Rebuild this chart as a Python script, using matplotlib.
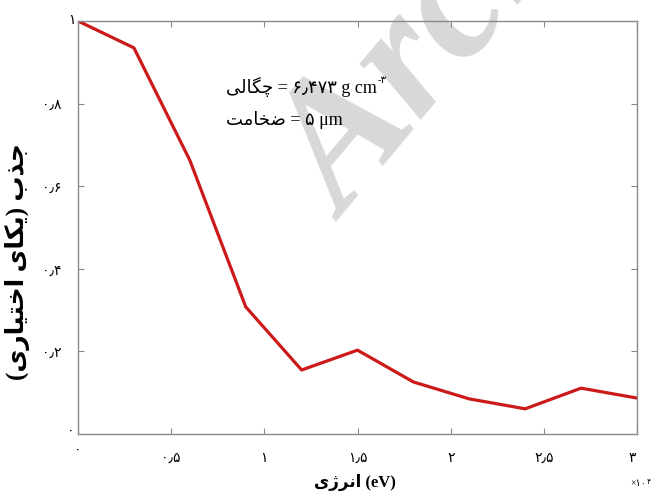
import matplotlib
matplotlib.use("Agg")
import matplotlib.pyplot as plt
from matplotlib.ticker import FuncFormatter
import matplotlib.transforms as mtrans

# data (energy in units of 10^4 eV)
energy = [0, 0.3, 0.6, 0.9, 1.2, 1.5, 1.8, 2.1, 2.4, 2.7, 3.0]
absorb = [1.0, 0.935, 0.663, 0.308, 0.155, 0.203, 0.126, 0.085, 0.061, 0.111, 0.087]
xticks = [0, 0.5, 1, 1.5, 2, 2.5, 3]
yticks = [0, 0.2, 0.4, 0.6, 0.8, 1]

xlabel_fa = "انرژی"
ylabel_fa = "جذب (یکای اختیاری)"
density_fa = "چگالی"
thick_fa = "ضخامت"
density_val = "۶٫۴۷۳ g cm"
thick_val = "۵ μm"
watermark = "Archive of SID"

# arabic presentation forms: isolated, final, initial, medial
FORMS = {
    'ا': ('\uFE8D', '\uFE8E', None, None),
    'ب': ('\uFE8F', '\uFE90', '\uFE91', '\uFE92'),
    'ت': ('\uFE95', '\uFE96', '\uFE97', '\uFE98'),
    'ج': ('\uFE9D', '\uFE9E', '\uFE9F', '\uFEA0'),
    'خ': ('\uFEA5', '\uFEA6', '\uFEA7', '\uFEA8'),
    'ذ': ('\uFEAB', '\uFEAC', None, None),
    'ر': ('\uFEAD', '\uFEAE', None, None),
    'ض': ('\uFEBD', '\uFEBE', '\uFEBF', '\uFEC0'),
    'ل': ('\uFEDD', '\uFEDE', '\uFEDF', '\uFEE0'),
    'م': ('\uFEE1', '\uFEE2', '\uFEE3', '\uFEE4'),
    'ن': ('\uFEE5', '\uFEE6', '\uFEE7', '\uFEE8'),
    'ژ': ('\uFB8A', '\uFB8B', None, None),
    'چ': ('\uFB7A', '\uFB7B', '\uFB7C', '\uFB7D'),
    'ک': ('\uFB8E', '\uFB8F', '\uFB90', '\uFB91'),
    'گ': ('\uFB92', '\uFB93', '\uFB94', '\uFB95'),
    'ی': ('\uFBFC', '\uFBFD', '\uFBFE', '\uFBFF'),
}

def shape(s):
    # join letters and flip to visual order, matplotlib has no rtl layout
    out = []
    for i, c in enumerate(s):
        if c not in FORMS:
            out.append(c)
            continue
        prev = s[i-1] if i > 0 else ''
        nxt = s[i+1] if i + 1 < len(s) else ''
        jp = prev in FORMS and FORMS[prev][2] is not None
        jn = FORMS[c][2] is not None and nxt in FORMS
        idx = 3 if (jp and jn) else 1 if jp else 2 if jn else 0
        out.append(FORMS[c][idx])
    mirror = {'(': ')', ')': '('}
    return ''.join(mirror.get(c, c) for c in reversed(out))

def fa_num(v, pos=None):
    s = f"{v:g}".replace('.', '٫')
    return s.translate(str.maketrans('0123456789', '۰۱۲۳۴۵۶۷۸۹'))

W, H = 651, 495
fam = ['Liberation Serif', 'DejaVu Sans']
grey = '#8a8a8a'

fig = plt.figure(figsize=(W/100, H/100), dpi=100)
ax = fig.add_axes([78/W, 61/H, 559/W, 413/H])

ax.plot(energy, absorb, color='#cc1a1a', lw=2.3)
ax.set_xlim(0, 3)
ax.set_ylim(0, 1)
ax.set_xticks(xticks)
ax.set_yticks(yticks)
ax.xaxis.set_major_formatter(FuncFormatter(fa_num))
ax.yaxis.set_major_formatter(FuncFormatter(fa_num))
for sp in ax.spines.values():
    sp.set_color(grey)
    sp.set_linewidth(1)
ax.tick_params(direction='in', length=4, color=grey, width=0.8,
               top=True, right=True, labelsize=10)
ax.tick_params(axis='x', pad=12)
ax.tick_params(axis='y', pad=12)

# the end labels sit off the regular spots in the reference
fig.canvas.draw()
xl = ax.get_xticklabels()
yl = ax.get_yticklabels()
xl[0].set_transform(xl[0].get_transform() + mtrans.ScaledTranslation(0, 0.08, fig.dpi_scale_trans))
xl[-1].set_transform(xl[-1].get_transform() + mtrans.ScaledTranslation(-0.05, 0, fig.dpi_scale_trans))
yl[0].set_transform(yl[0].get_transform() + mtrans.ScaledTranslation(0.13, 0.05, fig.dpi_scale_trans))
yl[-1].set_transform(yl[-1].get_transform() + mtrans.ScaledTranslation(0.14, 0.02, fig.dpi_scale_trans))

ax.text(345/W, 1 - 222/H, watermark, transform=fig.transFigure, rotation=50,
        rotation_mode='anchor', ha='left', va='baseline', fontsize=130,
        fontweight='bold', fontstyle='italic', family='Liberation Serif',
        color='#d8d8d8', zorder=0, clip_on=False)

fig.text(355/W, 1 - 482/H, shape(xlabel_fa) + " (eV)", ha='center', va='center',
         fontsize=12, fontweight='bold', family=fam)
fig.text(18/W, 1 - 262/H, shape(ylabel_fa), rotation=90, ha='center', va='center',
         fontsize=18, fontweight='bold', family=fam)

t1 = fig.text(226/W, 1 - 87/H, shape(density_fa) + " = " + density_val,
              ha='left', va='center', fontsize=13, family=fam)
ax.annotate("-۳", xy=(1, 1), xycoords=t1, xytext=(0.5, 1), textcoords='offset points',
            ha='left', va='top', fontsize=7.5, family=fam, annotation_clip=False)
fig.text(226/W, 1 - 120/H, shape(thick_fa) + " = " + thick_val,
         ha='left', va='center', fontsize=13, family=fam)

t2 = fig.text(630/W, 1 - 484/H, "×۱۰", ha='left', va='center', fontsize=7, family=fam)
ax.annotate("۴", xy=(1, 1), xycoords=t2, xytext=(0.3, 1), textcoords='offset points',
            ha='left', va='top', fontsize=5.5, family=fam, annotation_clip=False)

fig.savefig("out.png", dpi=100)
